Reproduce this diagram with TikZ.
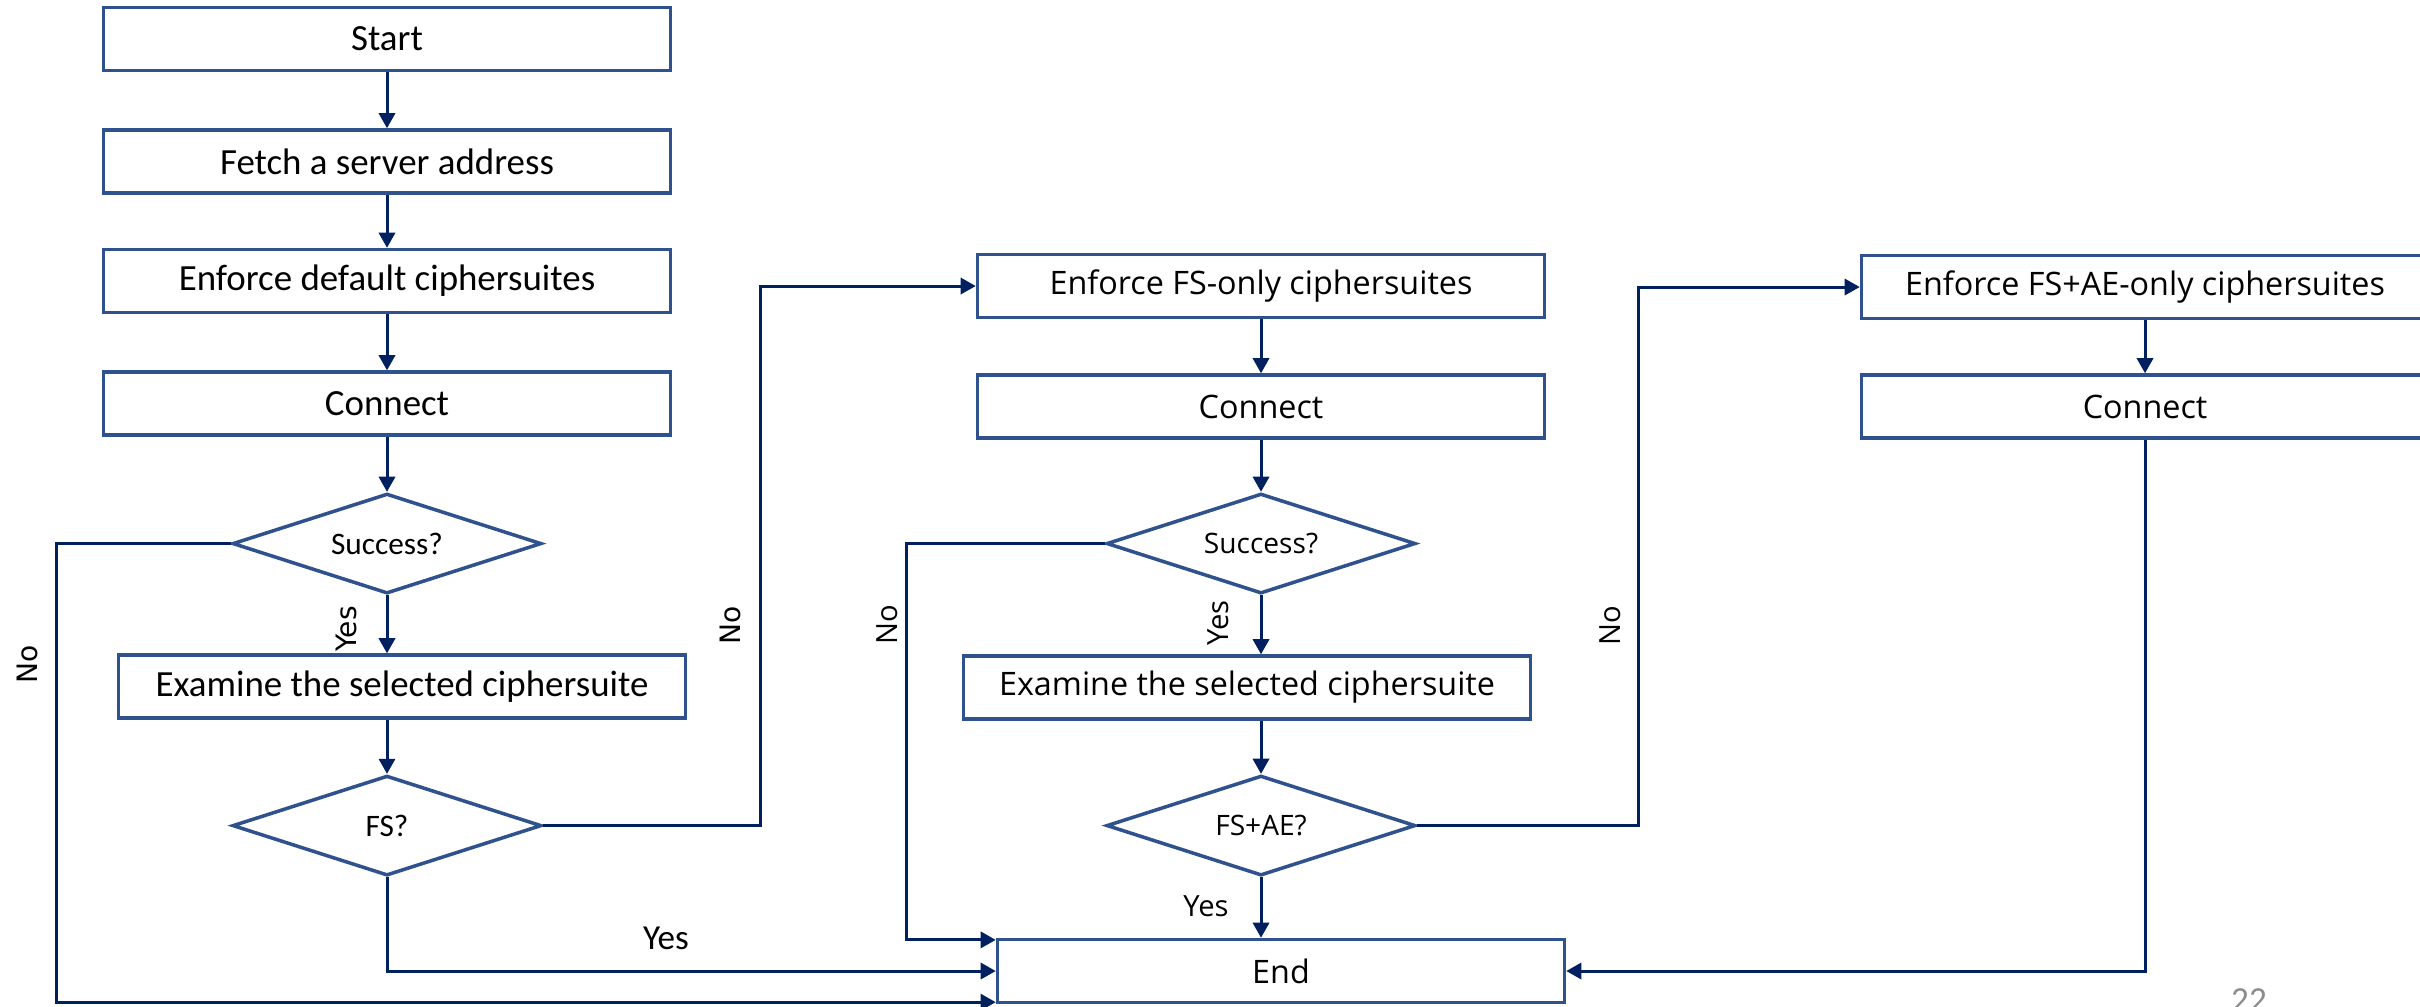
\documentclass[tikz,border=0pt]{standalone}
\usepackage{fontspec}
\setmainfont{Carlito}
\newfontfamily\segoe{Open Sans}
\newfontfamily\verd{DejaVu Sans}
\usepackage{xcolor}
\definecolor{boxblue}{RGB}{47, 82,143}
\definecolor{navy}{RGB}{ 0, 32, 96}
\definecolor{pgray}{RGB}{140,140,140}
\usetikzlibrary{shapes.geometric, arrows.meta, positioning, calc}
\tikzset{
  stepbox/.style={draw=boxblue, line width=1pt,
    minimum width=5.67cm, minimum height=0.63cm, inner sep=0pt,
    font=\fontsize{10.5}{12}\selectfont},
  stepboxB/.style={stepbox, font=\segoe\fontsize{9.2}{11}\selectfont},
  checknode/.style={draw=boxblue, line width=1pt, diamond, aspect=3.1,
    inner sep=0pt, minimum width=3.09cm, minimum height=1.0cm,
    font=\fontsize{8.9}{10}\selectfont},
  checknodeB/.style={checknode, font=\segoe\fontsize{8}{10}\selectfont},
  flowarrow/.style={-{Triangle[length=4.3pt,width=4.6pt]}, line width=0.85pt, color=navy},
  flowline/.style={line width=0.85pt, color=navy},
  branchlbl/.style={font=\verd\fontsize{8}{10}\selectfont, inner sep=0pt},
  branchlblB/.style={font=\segoe\fontsize{8.3}{10}\selectfont, inner sep=0pt}
}

\begin{document}
\begin{tikzpicture}
  \useasboundingbox (0,0) rectangle (24.2,-10.06);
  \clip (0,0) rectangle (24.2,-10.06);

  % Default ciphersuites
  \node[stepbox] (start) at (3.87,-0.39) {Start};
  \node[stepbox, below=0.56cm of start] (fetch) {Fetch a server address};
  \node[stepbox, below=0.53cm of fetch] (enf1) {Enforce default ciphersuites};
  \node[stepbox, below=0.56cm of enf1] (conn1) {Connect};
  \node[checknode, below=0.55cm of conn1] (s1) {Success?};
  \node[stepbox, below=0.58cm of s1, xshift=0.15cm] (exam1) {Examine the selected ciphersuite};
  \node[checknode, below=0.54cm of exam1, xshift=-0.15cm] (fs) {FS?};

  % FS-only ciphersuites
  \node[stepboxB] (enf2) at (12.61,-2.86) {Enforce FS-only ciphersuites};
  \node[stepboxB, below=0.54cm of enf2] (conn2) {Connect};
  \node[checknodeB, below=0.52cm of conn2] (s2) {Success?};
  \node[stepboxB, below=0.59cm of s2, xshift=-0.14cm] (exam2) {Examine the selected ciphersuite};
  \node[checknodeB, below=0.53cm of exam2, xshift=0.14cm] (fsae) {FS+AE?};

  % FS+AE-only ciphersuites
  \node[stepboxB] (enf3) at (21.45,-2.87) {Enforce FS+AE-only ciphersuites};
  \node[stepboxB, below=0.53cm of enf3] (conn3) {Connect};

  \node[stepboxB] (end) at (12.81,-9.71) {End};

  % Main flow
  \draw[flowarrow] (start) -- (fetch);
  \draw[flowarrow] (fetch) -- (enf1);
  \draw[flowarrow] (enf1) -- (conn1);
  \draw[flowarrow] (conn1) -- (s1);
  \draw[flowarrow] (s1.south) -- (s1.south |- exam1.north);
  \draw[flowarrow] (exam1.south -| fs.north) -- (fs.north);
  \draw[flowarrow] (enf2) -- (conn2);
  \draw[flowarrow] (conn2) -- (s2);
  \draw[flowarrow] (s2.south) -- (s2.south |- exam2.north);
  \draw[flowarrow] (exam2.south -| fsae.north) -- (fsae.north);
  \draw[flowarrow] (enf3) -- (conn3);

  % Branches to the end
  \draw[flowarrow] (s1.west) -- ++(-1.74,0) |- ([yshift=0.6pt]end.south west);
  \draw[flowarrow] (fs.south) |- (end.west);
  \draw[flowarrow] (s2.west) -- ++(-1.98,0) |- ([yshift=-0.6pt]end.north west);
  \draw[flowarrow] (fsae.south) -- (fsae.south |- end.north);
  \draw[flowarrow] (conn3.south) |- (end.east);

  % Stricter ciphersuites
  \draw[flowarrow] (fs.east) -- ++(2.175,0) |- (enf2.west);
  \draw[flowarrow] (fsae.east) -- ++(2.21,0) |- (enf3.west);

  % Labels
  \node[branchlbl, rotate=90] (no1) at (0.27,-6.64) {No};
  \node[branchlbl, rotate=90] (yes1) at (3.46,-6.29) {Yes};
  \node[branchlbl, rotate=90] (no2) at (7.30,-6.25) {No};
  \node[font=\fontsize{10}{12}\selectfont, inner sep=0pt] (yes2) at (6.66,-9.38) {Yes};
  \node[branchlblB, rotate=90] (no3) at (8.87,-6.25) {No};
  \node[branchlblB, rotate=90] (yes3) at (12.18,-6.23) {Yes};
  \node[branchlblB] (yes4) at (12.06,-9.06) {Yes};
  \node[branchlblB, rotate=90] (no4) at (16.10,-6.26) {No};

  \node[font=\fontsize{10}{10}\selectfont, text=pgray, anchor=base, inner sep=0pt] (pg) at (22.49,-10.11) {22};

\end{tikzpicture}
\end{document}
